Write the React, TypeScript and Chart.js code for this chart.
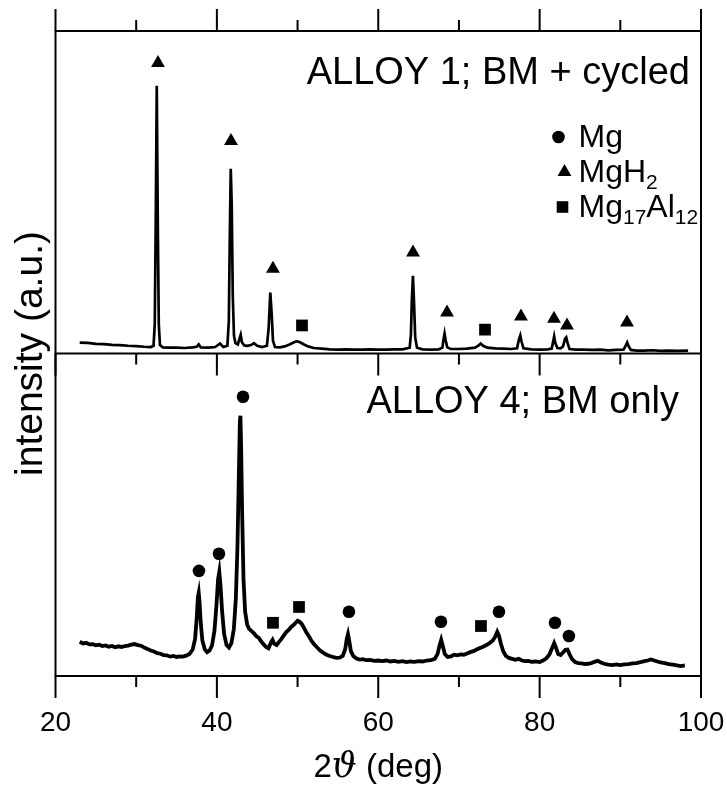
import React, { useEffect, useRef } from 'react';
import { Chart, registerables } from 'chart.js';

Chart.register(...registerables);

// ---------- axis ----------
const X_MIN = 20;
const X_MAX = 100;
const majorTicks = [20, 40, 60, 80, 100];
const minorTicks = [30, 50, 70, 90];
const PANEL_SPAN = 100; // each panel spans 100 a.u.

// ---------- ALLOY 1; BM + cycled (upper panel) ----------
const alloy1X = [23.0, 24.0, 25.0, 26.0, 27.0, 28.0, 29.0, 30.0, 31.0, 31.8, 32.15, 32.3, 32.42, 32.55, 32.68, 32.8, 32.95, 33.3, 34.0, 35.0, 36.0, 37.0, 37.5, 37.75, 38.0, 39.0, 39.8, 40.4, 40.8, 41.3, 41.48, 41.6, 41.72, 41.84, 41.97, 42.12, 42.3, 42.6, 42.85, 42.95, 43.1, 43.4, 43.8, 44.3, 44.6, 45.0, 45.6, 46.2, 46.42, 46.62, 46.8, 46.95, 47.2, 47.8, 48.4, 49.0, 49.5, 49.9, 50.3, 50.8, 51.3, 52.0, 53.0, 54.0, 55.0, 56.0, 57.0, 58.0, 59.0, 60.0, 61.0, 62.0, 63.0, 63.9, 64.05, 64.17, 64.3, 64.43, 64.58, 64.8, 65.5, 66.5, 67.5, 67.95, 68.1, 68.22, 68.35, 68.55, 69.0, 70.0, 71.0, 72.0, 72.4, 72.7, 73.0, 73.5, 74.5, 75.5, 76.5, 77.2, 77.45, 77.6, 77.75, 78.0, 79.0, 80.0, 81.0, 81.5, 81.7, 81.8, 81.95, 82.2, 82.6, 82.9, 83.15, 83.3, 83.45, 83.7, 84.5, 85.5, 86.5, 87.5, 88.5, 89.5, 90.4, 90.7, 90.85, 91.0, 91.3, 92.0, 93.0, 94.0, 95.0, 96.0, 97.0, 98.4];
const alloy1Y = [3.4, 3.3, 3.0, 2.9, 2.7, 2.6, 2.4, 2.3, 2.1, 2.0, 2.4, 9, 40, 83, 40, 9, 2.6, 1.9, 1.8, 1.8, 1.7, 1.9, 2.1, 2.8, 1.9, 1.8, 2.0, 3.1, 2.0, 2.4, 10, 36, 57.3, 46, 18, 5.5, 3.2, 2.8, 5.0, 5.8, 3.5, 2.5, 2.4, 2.7, 3.2, 2.4, 2.0, 2.4, 8, 18.9, 12, 4, 2.0, 1.9, 2.2, 2.8, 3.4, 3.8, 3.5, 2.8, 2.2, 1.7, 1.5, 1.3, 1.2, 1.3, 1.2, 1.2, 1.3, 1.2, 1.2, 1.3, 1.3, 1.8, 6, 17, 24.1, 16, 5, 1.8, 1.3, 1.2, 1.3, 1.8, 4.5, 6.2, 4.2, 1.9, 1.4, 1.4, 1.5, 1.8, 2.4, 3.1, 2.4, 1.8, 1.6, 1.5, 1.4, 1.6, 4.5, 5.6, 3.8, 1.6, 1.3, 1.2, 1.3, 1.5, 4.0, 5.3, 3.2, 1.7, 1.6, 2.2, 4.6, 5.0, 3.4, 1.4, 1.2, 1.2, 1.1, 1.2, 1.0, 1.1, 1.2, 2.6, 3.4, 2.4, 1.1, 0.9, 0.9, 1.0, 0.8, 0.9, 0.8, 0.9];

// peak markers, upper panel
const alloy1MgH2X = [32.7, 41.75, 46.95, 64.31, 68.52, 77.69, 81.78, 83.39, 90.83];
const alloy1MgH2Y = [90.1, 65.9, 26.3, 31.3, 12.7, 11.5, 10.8, 8.7, 9.6];
const alloy1Mg17X = [50.55, 73.23];
const alloy1Mg17Y = [8.7, 7.4];

// ---------- ALLOY 4; BM only (lower panel) ----------
const alloy4X = [23.0, 23.4, 23.8, 24.2, 24.6, 25.0, 25.4, 25.8, 26.2, 26.6, 27.0, 27.4, 27.8, 28.2, 28.6, 29.0, 29.4, 29.8, 30.2, 30.6, 31.0, 31.4, 31.8, 32.2, 32.6, 33.0, 33.4, 33.8, 34.2, 34.6, 35.0, 35.4, 35.8, 36.2, 36.6, 37.0, 37.3, 37.5, 37.65, 37.75, 37.85, 38.0, 38.2, 38.5, 38.8, 39.1, 39.4, 39.7, 39.95, 40.15, 40.3, 40.45, 40.65, 40.9, 41.2, 41.5, 41.8, 42.1, 42.35, 42.55, 42.72, 42.85, 42.92, 43.0, 43.12, 43.3, 43.5, 43.75, 44.0, 44.3, 44.6, 44.9, 45.2, 45.5, 45.8, 46.1, 46.4, 46.7, 46.9, 47.1, 47.4, 47.7, 48.0, 48.3, 48.6, 48.9, 49.2, 49.5, 49.8, 50.0, 50.2, 50.5, 50.8, 51.1, 51.4, 51.7, 52.0, 52.4, 52.8, 53.2, 53.6, 54.0, 54.4, 54.8, 55.2, 55.6, 55.9, 56.1, 56.25, 56.4, 56.6, 56.9, 57.3, 57.7, 58.1, 58.5, 59.0, 59.5, 60.0, 60.5, 61.0, 61.5, 62.0, 62.5, 63.0, 63.5, 64.0, 64.5, 65.0, 65.5, 66.0, 66.5, 67.0, 67.35, 67.6, 67.8, 68.0, 68.25, 68.6, 69.0, 69.4, 69.8, 70.2, 70.6, 71.0, 71.4, 71.8, 72.2, 72.6, 73.0, 73.4, 73.8, 74.2, 74.5, 74.75, 74.95, 75.2, 75.5, 75.8, 76.2, 76.6, 77.0, 77.4, 77.8, 78.2, 78.6, 79.0, 79.5, 80.0, 80.4, 80.8, 81.2, 81.5, 81.8, 82.05, 82.3, 82.6, 82.9, 83.2, 83.45, 83.7, 84.0, 84.4, 84.8, 85.2, 85.6, 86.0, 86.4, 86.8, 87.2, 87.6, 88.0, 88.5, 89.0, 89.5, 90.0, 90.5, 91.0, 91.5, 92.0, 92.5, 93.0, 93.4, 93.8, 94.2, 94.6, 95.0, 95.5, 96.0, 96.5, 97.0, 97.5, 98.0];
const alloy4Y = [10.6, 10.1, 10.3, 9.8, 9.9, 9.5, 9.7, 9.3, 9.5, 9.1, 9.3, 8.9, 9.2, 9.0, 9.3, 9.4, 9.7, 9.9, 9.6, 9.4, 8.8, 8.4, 7.9, 7.6, 7.1, 6.9, 6.5, 6.4, 6.0, 6.2, 5.9, 6.1, 6.0, 6.3, 6.8, 8.2, 11.5, 18, 24.5, 25.8, 23, 16.5, 11, 8.3, 7.4, 7.9, 9.5, 14, 22, 30, 32.3, 28, 20, 13, 9.6, 8.8, 10.2, 14.5, 24, 40, 62, 79, 80.7, 72, 52, 30, 20, 16, 14.6, 13.9, 13.2, 12.3, 11.8, 10.7, 9.8, 9.0, 8.6, 10.4, 11.2, 10.0, 9.6, 10.6, 11.5, 12.6, 13.6, 14.3, 15.2, 15.8, 16.6, 17.1, 16.9, 16.2, 14.9, 13.5, 12.3, 11.0, 10.0, 8.9, 7.9, 7.2, 6.6, 6.2, 5.9, 5.6, 5.7, 6.2, 8.3, 11.5, 13.0, 11.0, 7.8, 6.2, 5.4, 5.1, 5.2, 4.9, 5.0, 4.7, 4.8, 4.6, 4.8, 4.5, 4.7, 4.4, 4.6, 4.3, 4.5, 4.4, 4.6, 4.5, 4.8, 4.9, 5.3, 6.8, 9.5, 11.2, 9.3, 6.8, 5.9, 6.1, 6.6, 6.4, 6.7, 6.6, 7.0, 7.4, 7.7, 8.2, 8.7, 9.1, 9.6, 10.2, 11.0, 12.2, 13.7, 12.6, 10.0, 7.6, 6.3, 5.6, 5.3, 5.0, 5.3, 4.8, 4.6, 4.7, 4.4, 4.5, 4.3, 4.8, 5.4, 6.6, 8.4, 10.2, 8.6, 6.8, 6.5, 7.3, 8.1, 8.2, 6.8, 5.3, 4.3, 4.0, 3.9, 3.7, 3.8, 4.0, 4.4, 4.7, 4.2, 3.8, 3.5, 3.4, 3.6, 3.4, 3.6, 3.7, 3.9, 4.0, 4.3, 4.6, 4.8, 5.1, 4.8, 4.5, 4.2, 4.0, 3.7, 3.5, 3.3, 3.1, 3.3];

// peak markers, lower panel
const alloy4MgX = [37.78, 40.26, 43.24, 56.37, 67.77, 74.96, 81.9, 83.63];
const alloy4MgY = [32.6, 37.9, 86.6, 19.9, 16.8, 19.9, 16.5, 12.4];
const alloy4Mg17X = [46.95, 50.18, 72.73];
const alloy4Mg17Y = [16.5, 21.4, 15.5];

// ---------- texts ----------
const panel1Label = 'ALLOY 1; BM + cycled';
const panel4Label = 'ALLOY 4; BM only';
const yTitle = 'intensity (a.u.)';
const xTitleParts = ['2', 'ϑ', ' (deg)'];
const legendEntries = [
  { style: 'circle', parts: [['Mg', false]] },
  { style: 'triangle', parts: [['Mg', false], ['H', false], ['2', true]] },
  { style: 'rect', parts: [['Mg', false], ['17', true], ['Al', false], ['12', true]] },
];

const FONT = '"Liberation Sans", Arial, Helvetica, sans-serif';

const toPts = (xs: number[], ys: number[], off: number) => xs.map((x, i) => ({ x, y: ys[i] + off }));

function drawMarker(ctx: CanvasRenderingContext2D, style: string, x: number, y: number) {
  ctx.beginPath();
  if (style === 'circle') {
    ctx.arc(x, y, 6.3, 0, Math.PI * 2);
  } else if (style === 'triangle') {
    const r = 8;
    ctx.moveTo(x, y - r);
    ctx.lineTo(x + r * 0.866, y + r * 0.5);
    ctx.lineTo(x - r * 0.866, y + r * 0.5);
    ctx.closePath();
  } else {
    ctx.rect(x - 5.8, y - 5.8, 11.6, 11.6);
  }
  ctx.fill();
}

const framePlugin = {
  id: 'xrdFrame',
  afterDatasetsDraw(chart: any) {
    const { ctx, chartArea: a, scales } = chart;
    const xs = scales.x;
    const ys = scales.y;
    const midY = ys.getPixelForValue(PANEL_SPAN);
    ctx.save();
    ctx.strokeStyle = '#000';
    ctx.fillStyle = '#000';
    ctx.lineWidth = 2;
    ctx.lineCap = 'butt';
    // frame
    ctx.strokeRect(a.left, a.top, a.right - a.left, a.bottom - a.top);
    ctx.beginPath();
    ctx.moveTo(a.left, midY);
    ctx.lineTo(a.right, midY);
    ctx.stroke();
    // ticks
    const tick = (v: number, len: number) => {
      const px = xs.getPixelForValue(v);
      ctx.beginPath();
      ctx.moveTo(px, a.top);
      ctx.lineTo(px, a.top - len);
      ctx.moveTo(px, midY);
      ctx.lineTo(px, midY + len);
      ctx.moveTo(px, a.bottom);
      ctx.lineTo(px, a.bottom + len);
      ctx.stroke();
    };
    majorTicks.forEach((v) => tick(v, 22));
    minorTicks.forEach((v) => tick(v, 11));
    // tick labels
    ctx.font = `28px ${FONT}`;
    ctx.textAlign = 'center';
    ctx.textBaseline = 'middle';
    majorTicks.forEach((v) => ctx.fillText(String(v), xs.getPixelForValue(v), a.bottom + 47));
    // x title
    const fontR = `33px ${FONT}`;
    const fontI = `italic 35px "DejaVu Serif", "Liberation Serif", serif`;
    ctx.textAlign = 'left';
    ctx.textBaseline = 'alphabetic';
    const fonts = [fontR, fontI, fontR];
    let total = 0;
    const widths = xTitleParts.map((t, i) => {
      ctx.font = fonts[i];
      const w = ctx.measureText(t).width;
      total += w;
      return w;
    });
    let tx = (a.left + a.right) / 2 - total / 2;
    const tyBase = a.bottom + 101;
    xTitleParts.forEach((t, i) => {
      ctx.font = fonts[i];
      ctx.fillText(t, tx, tyBase);
      tx += widths[i];
    });
    // y title
    ctx.save();
    ctx.translate(31, (a.top + a.bottom) / 2);
    ctx.rotate(-Math.PI / 2);
    ctx.font = `39px ${FONT}`;
    ctx.textAlign = 'center';
    ctx.textBaseline = 'middle';
    ctx.fillText(yTitle, 0, 0);
    ctx.restore();
    // panel labels
    ctx.font = `38px ${FONT}`;
    ctx.textAlign = 'right';
    ctx.textBaseline = 'alphabetic';
    ctx.fillText(panel1Label, a.right - 11, a.top + 53);
    ctx.fillText(panel4Label, a.right - 22, midY + 59);
    // legend
    const lx = a.left + 503;
    const lyBase = [a.top + 116, a.top + 151, a.top + 186];
    const markerDx = [0, 6, 4];
    legendEntries.forEach((e, i) => {
      drawMarker(ctx, e.style, lx + markerDx[i], lyBase[i] - 10);
      let x = lx + 20;
      ctx.textAlign = 'left';
      e.parts.forEach(([t, sub]: any) => {
        ctx.font = sub ? `21px ${FONT}` : `32px ${FONT}`;
        ctx.fillText(t, x, lyBase[i] + (sub ? 7 : 0));
        x += ctx.measureText(t).width;
      });
    });
    ctx.restore();
  },
};

export default function App() {
  const ref = useRef<HTMLCanvasElement>(null);
  useEffect(() => {
    if (!ref.current) return;
    const markerDs = (xs: number[], ys: number[], off: number, style: string, r: number) => ({
      data: toPts(xs, ys, off),
      showLine: false,
      pointStyle: style,
      pointRadius: r,
      pointBackgroundColor: '#000',
      pointBorderWidth: 0,
      pointHoverRadius: r,
      clip: false,
    });
    const chart = new Chart(ref.current, {
      type: 'scatter',
      data: {
        datasets: [
          {
            data: toPts(alloy1X, alloy1Y, PANEL_SPAN),
            showLine: true,
            borderColor: '#000',
            borderWidth: 2.7,
            pointRadius: 0,
            tension: 0,
          },
          {
            data: toPts(alloy4X, alloy4Y, 0),
            showLine: true,
            borderColor: '#000',
            borderWidth: 3.8,
            pointRadius: 0,
            tension: 0,
          },
          markerDs(alloy1MgH2X, alloy1MgH2Y, PANEL_SPAN, 'triangle', 8),
          markerDs(alloy1Mg17X, alloy1Mg17Y, PANEL_SPAN, 'rect', 8.3),
          markerDs(alloy4MgX, alloy4MgY, 0, 'circle', 6.3),
          markerDs(alloy4Mg17X, alloy4Mg17Y, 0, 'rect', 8.3),
        ] as any,
      },
      options: {
        animation: false,
        responsive: false,
        devicePixelRatio: 1,
        layout: { padding: { left: 55.5, right: 26, top: 31, bottom: 113 } },
        plugins: { legend: { display: false }, tooltip: { enabled: false } },
        events: [],
        scales: {
          x: { type: 'linear', min: X_MIN, max: X_MAX, display: false },
          y: { type: 'linear', min: 0, max: 2 * PANEL_SPAN, display: false },
        },
      },
      plugins: [framePlugin],
    });
    return () => chart.destroy();
  }, []);
  return (
    <div style={{ position: 'absolute', left: 0, top: 0, width: 727, height: 789, background: '#fff' }}>
      <canvas ref={ref} width={727} height={789} style={{ display: 'block' }} />
    </div>
  );
}
